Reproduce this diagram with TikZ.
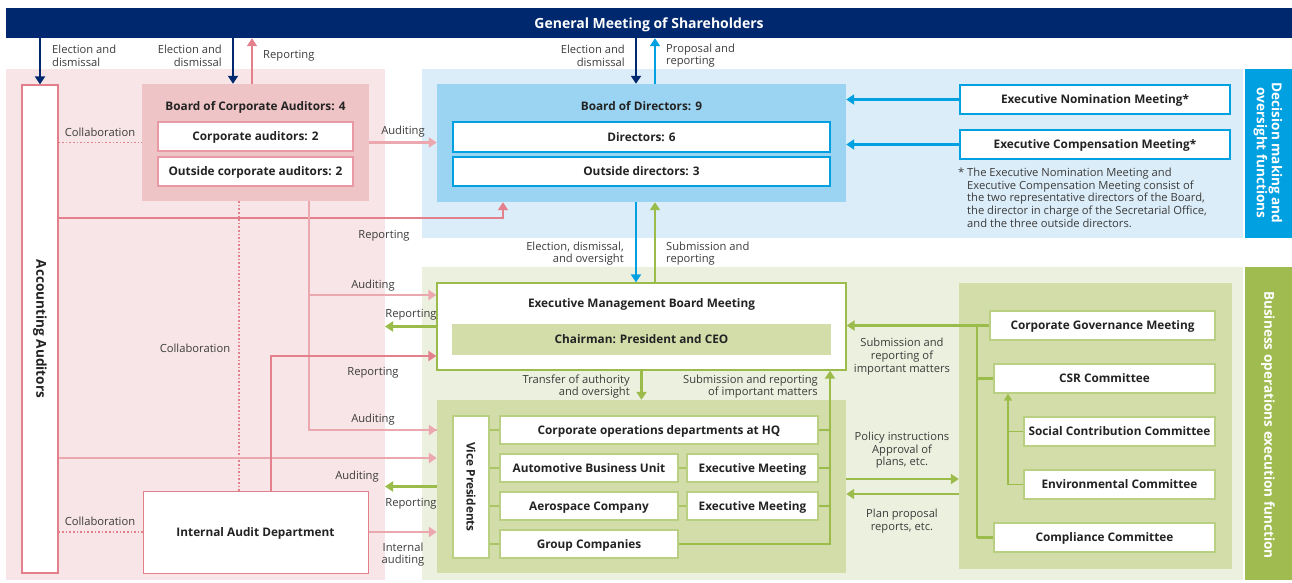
\documentclass[tikz,border=0pt]{standalone}
\usepackage{fontspec}
\setmainfont{Open Sans}
\usetikzlibrary{arrows.meta,positioning}
\definecolor{cgNavy}{RGB}{0,40,110}
\definecolor{cgCyan}{RGB}{0,160,225}
\definecolor{cgBlueBg}{RGB}{219,237,248}
\definecolor{cgBlueFill}{RGB}{155,212,242}
\definecolor{cgPinkBg}{RGB}{248,229,231}
\definecolor{cgPinkFill}{RGB}{238,196,198}
\definecolor{cgPinkDark}{RGB}{228,128,140}
\definecolor{cgPinkLight}{RGB}{236,168,175}
\definecolor{cgGreenBg}{RGB}{236,240,222}
\definecolor{cgGreenFill}{RGB}{210,221,170}
\definecolor{cgGreen}{RGB}{155,187,75}
\definecolor{cgGreenSide}{RGB}{160,188,80}
\definecolor{cgText}{RGB}{35,35,35}
\definecolor{cgLabel}{RGB}{60,60,60}

\begin{document}
\begin{tikzpicture}[x=1pt,y=-1pt,
    box/.style={draw, fill=white, line width=1.3pt, inner sep=0pt, text=cgText,
      text height=8.4pt, text depth=0pt, font=\bfseries\fontsize{11.8}{13}\selectfont},
    title/.style={inner sep=0pt, text=cgText, text height=8.4pt, text depth=0pt,
      font=\bfseries\fontsize{11.8}{13}\selectfont},
    lbl/.style={inner sep=0pt, yshift=-1.2pt, text=cgLabel, font=\fontsize{11.2}{12.7}\selectfont},
    side/.style={inner sep=0pt, text=white, rotate=-90, align=center,
      font=\bfseries\fontsize{13.6}{15}\selectfont},
    arr/.style={-{Triangle[width=10pt,length=8pt]}, line width=2.8pt},
    link/.style={line width=2.8pt},
    collab/.style={line width=1.6pt, dotted, cgPinkDark},
  ]
\useasboundingbox (0,0) rectangle (1292,582);

\fill[cgPinkBg] (6,69) rectangle (385,580);
\fill[cgBlueBg] (422,69) rectangle (1243,238);
\fill[cgCyan] (1245,69) rectangle (1292,238);
\fill[cgGreenBg] (422,267) rectangle (1243,580);
\fill[cgGreenSide] (1245,267) rectangle (1292,580);

\node[side] (sideDec) at (1268,153) {Decision making and\\oversight functions};
\node[side] (sideBiz) at (1268,425) {Business operations execution function};

\node[fill=cgNavy, minimum width=1286pt, minimum height=30pt, inner sep=0pt, text=white,
  text height=10pt, text depth=0pt,
  font=\bfseries\fontsize{14}{16}\selectfont] (gms) at (649,23) {General Meeting of Shareholders};

% auditing side
\node[box, draw=cgPinkDark, minimum width=36pt, minimum height=488pt] (acc) at (40,329) {};
\node[side, text=cgText] (accT) at (acc.center) {Accounting Auditors};
\node[fill=cgPinkFill, minimum width=227pt, minimum height=117pt, inner sep=0pt] (bca) at (255.5,142.5) {};
\node[title] (bcaT) at (255.5,106) {Board of Corporate Auditors: 4};
\node[box, draw=cgPinkDark!80, minimum width=195pt, minimum height=29pt] (ca2) at (255.5,136.5) {Corporate auditors: 2};
\node[box, draw=cgPinkDark!80, minimum width=195pt, minimum height=29pt] (oca2) at (255.5,171.5) {Outside corporate auditors: 2};
\node[box, draw=cgPinkDark, line width=1pt, minimum width=225pt, minimum height=82pt] (iad) at (255.5,532) {Internal Audit Department};

% board
\node[fill=cgBlueFill, minimum width=409pt, minimum height=118pt, inner sep=0pt] (bod) at (641.5,143) {};
\node[title] (bodT) at (641.5,106) {Board of Directors: 9};
\node[box, draw=cgCyan, minimum width=377pt, minimum height=30pt] (dir6) at (641.5,137) {Directors: 6};
\node[box, draw=cgCyan, minimum width=377pt, minimum height=29pt] (odir3) at (641.5,171.5) {Outside directors: 3};
\node[box, draw=cgCyan, minimum width=270pt, minimum height=29pt] (enm) at (1095,99.5) {Executive Nomination Meeting*};
\node[box, draw=cgCyan, minimum width=270pt, minimum height=29pt] (ecm) at (1095,144.5) {Executive Compensation Meeting*};
\node[lbl, anchor=north west] (starT) at (958,166.5) {*};
\node[lbl, anchor=north west, align=left] (noteT) at (967,166.5) {The Executive Nomination Meeting and\\Executive Compensation Meeting consist of\\the two representative directors of the Board,\\the director in charge of the Secretarial Office,\\and the three outside directors.};

% execution
\node[box, draw=cgGreen, minimum width=409pt, minimum height=87pt] (emb) at (641.5,326.5) {};
\node[title] (embT) at (641.5,303) {Executive Management Board Meeting};
\node[fill=cgGreenFill, minimum width=379pt, minimum height=31pt, inner sep=0pt, text=cgText,
  text height=8.4pt, text depth=0pt,
  font=\bfseries\fontsize{11.8}{13}\selectfont] (chair) at (641.5,339.5) {Chairman: President and CEO};
\node[fill=cgGreenFill, minimum width=409pt, minimum height=173pt, inner sep=0pt] (ops) at (641.5,486.5) {};
\node[box, draw=cgGreen!70, minimum width=36pt, minimum height=142pt] (vp) at (471,487) {};
\node[side, text=cgText, font=\bfseries\fontsize{11.8}{13}\selectfont] (vpT) at (vp.center) {Vice Presidents};
\node[box, draw=cgGreen!70, minimum width=318pt, minimum height=28pt] (hq) at (659,430) {Corporate operations departments at HQ};
\node[box, draw=cgGreen!70, minimum width=178pt, minimum height=28pt] (auto) at (589,468) {Automotive Business Unit};
\node[box, draw=cgGreen!70, minimum width=131pt, minimum height=28pt] (em1) at (752.5,468) {Executive Meeting};
\node[box, draw=cgGreen!70, minimum width=178pt, minimum height=28pt] (aero) at (589,506) {Aerospace Company};
\node[box, draw=cgGreen!70, minimum width=131pt, minimum height=28pt] (em2) at (752.5,506) {Executive Meeting};
\node[box, draw=cgGreen!70, minimum width=178pt, minimum height=28pt] (grp) at (589,544) {Group Companies};

\node[fill=cgGreenFill, minimum width=273pt, minimum height=286pt, inner sep=0pt] (rp) at (1095.5,426) {};
\node[box, draw=cgGreen!70, minimum width=225pt, minimum height=29pt] (cgm) at (1102.5,325.5) {Corporate Governance Meeting};
\node[box, draw=cgGreen!70, minimum width=221pt, minimum height=29pt] (csr) at (1104.5,378.5) {CSR Committee};
\node[box, draw=cgGreen!70, minimum width=191pt, minimum height=29pt] (scc) at (1119.5,431.5) {Social Contribution Committee};
\node[box, draw=cgGreen!70, minimum width=191pt, minimum height=29pt] (env) at (1119.5,484.5) {Environmental Committee};
\node[box, draw=cgGreen!70, minimum width=221pt, minimum height=29pt] (comp) at (1104.5,537.5) {Compliance Committee};

\coordinate (xE2) at (233,0);
\coordinate (xR1) at (252,0);
\coordinate (xE3) at (636,0);
\coordinate (xP3) at (655,0);
\coordinate (xRep) at (503,0);
\coordinate (yRep) at (0,218);
\coordinate (xAud) at (309,0);
\coordinate (yAud) at (0,295);
\coordinate (xCol) at (239,0);
\coordinate (yAud2) at (0,458);
\coordinate (xIad) at (271,0);
\coordinate (yIad) at (0,356);
\coordinate (xOut) at (385,0);
\coordinate (xSub) at (830,0);
\coordinate (xCgm) at (977,0);
\coordinate (xCsr) at (1008,0);
\coordinate (yPol) at (0,479);
\coordinate (yPlan) at (0,494);

% connectors
\draw[arr, cgNavy] (gms.south -| acc.north) -- (acc.north);
\draw[arr, cgNavy] (gms.south -| xE2) -- (bca.north -| xE2);
\draw[arr, cgPinkDark] (bca.north -| xR1) -- (gms.south -| xR1);
\draw[arr, cgNavy] (gms.south -| xE3) -- (bod.north -| xE3);
\draw[arr, cgCyan] (bod.north -| xP3) -- (gms.south -| xP3);
\draw[arr, cgCyan] (enm.west) -- (enm.west -| bod.east);
\draw[arr, cgCyan] (ecm.west) -- (ecm.west -| bod.east);

\draw[collab] (acc.east |- bca.west) -- (bca.west);
\draw[arr, cgPinkLight] (bca.east) -- (bca.east -| bod.west);
\draw[arr, cgPinkDark] (acc.east |- yRep) -| (bod.south -| xRep);
\draw[link, cgPinkLight] (bca.south -| xAud) |- (ops.west |- hq.west);
\draw[arr, cgPinkLight] (xAud |- yAud) -- (emb.west |- yAud);
\draw[arr, cgPinkLight] ([xshift=-1pt]ops.west |- hq.west) -- (ops.west |- hq.west);
\draw[collab] (bca.south -| xCol) -- (iad.north -| xCol);
\draw[arr, cgPinkLight] (acc.east |- yAud2) -- (ops.west |- yAud2);
\draw[arr, cgPinkDark] (iad.north -| xIad) |- (emb.west |- yIad);
\draw[arr, cgPinkLight] (iad.east) -- (iad.east -| ops.west);
\draw[collab] (acc.east |- iad.west) -- (iad.west);

\draw[arr, cgGreen] (emb.west) -- (emb.west -| xOut);
\draw[arr, cgGreen] (ops.west) -- (ops.west -| xOut);
\draw[arr, cgCyan] (bod.south -| xE3) -- (emb.north -| xE3);
\draw[arr, cgGreen] (emb.north -| xP3) -- (bod.south -| xP3);
\draw[arr, cgGreen] (emb.south) -- (ops.north);

\foreach \b in {hq, auto, aero, grp}
  \draw[link, cgGreen!85] (vp.east |- \b.west) -- (\b.west);
\draw[link, cgGreen!85] (auto.east) -- (em1.west);
\draw[link, cgGreen!85] (aero.east) -- (em2.west);
\foreach \b in {hq, em1, em2}
  \draw[link, cgGreen] (\b.east) -- (\b.east -| xSub);
\draw[arr, cgGreen] (grp.east) -| (emb.south -| xSub);

\draw[arr, cgGreen] (cgm.west) -- (cgm.west -| emb.east);
\draw[link, cgGreen] (cgm.west -| xCgm) -- (comp.west -| xCgm);
\draw[link, cgGreen] (csr.west -| xCgm) -- (csr.west);
\draw[link, cgGreen] (comp.west -| xCgm) -- (comp.west);
\draw[line width=1.4pt, cgGreen] (scc.west) -- (scc.west -| xCsr);
\draw[-{Triangle[width=8pt,length=7pt]}, line width=1.4pt, cgGreen] (env.west) -| (csr.south -| xCsr);
\draw[arr, cgGreen] (ops.east |- yPol) -- (rp.west |- yPol);
\draw[arr, cgGreen] (rp.west |- yPlan) -- (ops.east |- yPlan);

% labels
\node[lbl, anchor=west, align=left] (lE1) at (52,54.5) {Election and\\dismissal};
\node[lbl, anchor=east, align=right] (lE2) at (222,54.5) {Election and\\dismissal};
\node[lbl, anchor=west] (lR1) at (263,55) {Reporting};
\node[lbl] (lC1) at (100,131) {Collaboration};
\node[lbl] (lA1) at (403,130) {Auditing};
\node[lbl, anchor=east, align=right] (lE3) at (625,54.5) {Election and\\dismissal};
\node[lbl, anchor=west, align=left] (lP3) at (666,54.5) {Proposal and\\reporting};
\node[lbl] (lR2) at (384,235) {Reporting};
\node[lbl, anchor=east, align=right] (lE4) at (624,252.5) {Election, dismissal,\\and oversight};
\node[lbl, anchor=west, align=left] (lS4) at (666,252.5) {Submission and\\reporting};
\node[lbl] (lA2) at (373,284) {Auditing};
\node[lbl] (lR3) at (411,314) {Reporting};
\node[lbl] (lC2) at (195,347) {Collaboration};
\node[lbl] (lR4) at (373,372) {Reporting};
\node[lbl] (lA3) at (373,418) {Auditing};
\node[lbl] (lA4) at (357,475) {Auditing};
\node[lbl] (lR5) at (411,503) {Reporting};
\node[lbl] (lC3) at (100,520) {Collaboration};
\node[lbl, align=center] (lI1) at (403,553.5) {Internal\\auditing};
\node[lbl, anchor=east, align=right] (lT1) at (630,385.5) {Transfer of authority\\and oversight};
\node[lbl, anchor=east, align=right] (lS5) at (818,385.5) {Submission and reporting\\of important matters};
\node[lbl, align=center] (lS6) at (902,355.5) {Submission and\\reporting of\\important matters};
\node[lbl, align=center] (lP6) at (902,449) {Policy instructions\\Approval of\\plans, etc.};
\node[lbl, align=center] (lP7) at (902,520) {Plan proposal\\reports, etc.};
\end{tikzpicture}
\end{document}
